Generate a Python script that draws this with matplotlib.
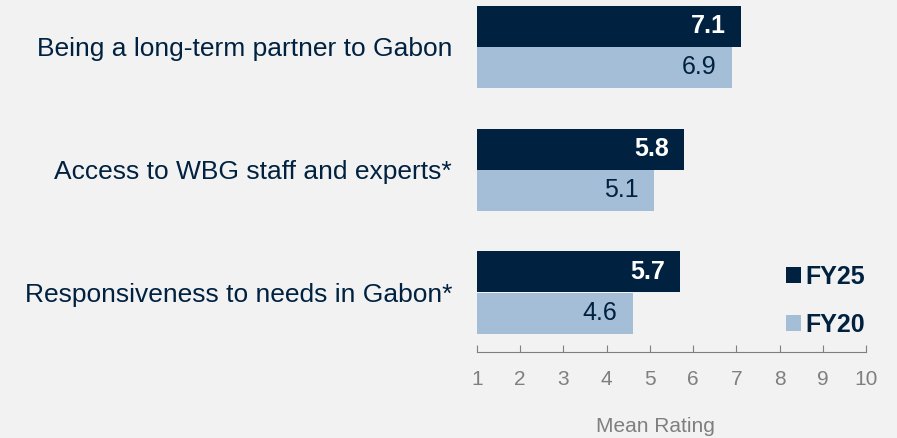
import matplotlib.pyplot as plt
import numpy as np

plt.rcParams['font.family'] = ['Liberation Sans', 'DejaVu Sans']

# data
categories = ["Being a long-term partner to Gabon",
              "Access to WBG staff and experts*",
              "Responsiveness to needs in Gabon*"]
fy25 = [7.1, 5.8, 5.7]
fy20 = [6.9, 5.1, 4.6]
series_names = ["FY25", "FY20"]
ticks = list(range(1, 11))

navy = "#00213F"
light = "#A3BED6"
bg = "#F2F2F2"
grey = "#7F7F7F"

fig = plt.figure(figsize=(8.97, 4.38), dpi=100, facecolor=bg)
W, H = 897, 438
ax = fig.add_axes([477 / W, (H - 352) / H, (866 - 477) / W, 352 / H])
ax.set_facecolor(bg)

y = np.arange(len(categories))
h = 41 / 123
b1 = ax.barh(y - h / 2, np.array(fy25) - 1, left=1, height=h, color=navy, label=series_names[0])
b2 = ax.barh(y + h / 2, np.array(fy20) - 1, left=1, height=h, color=light, label=series_names[1])

for yy, v in zip(y - h / 2, fy25):
    ax.annotate(f"{v:.1f}", (v, yy), xytext=(-11, 0), textcoords="offset points",
                ha="right", va="center", color="white", fontsize=18, fontweight="bold")
for yy, v in zip(y + h / 2, fy20):
    ax.annotate(f"{v:.1f}", (v, yy), xytext=(-11, 0), textcoords="offset points",
                ha="right", va="center", color=navy, fontsize=18)

ax.set_xlim(1, 10)
ax.set_ylim((352 - 46.5) / 123, -46.5 / 123)
ax.set_xticks(ticks)
ax.set_yticks(y)
ax.set_yticklabels(categories, fontsize=19, color=navy)
ax.tick_params(axis="y", length=0, pad=18)
ax.tick_params(axis="x", direction="in", length=5, color=grey, labelcolor=grey,
               labelsize=15, pad=13)
for s in ["top", "right", "left"]:
    ax.spines[s].set_visible(False)
ax.spines["bottom"].set_color(grey)
ax.set_xlabel("Mean Rating", fontsize=15, color=grey, va="center")
ax.xaxis.set_label_coords((655 - 477) / (866 - 477), -(426 - 352) / 352)

leg = ax.legend(handles=[b1, b2], loc="center left",
                bbox_to_anchor=(763 / W, 1 - 301 / H), bbox_transform=fig.transFigure,
                frameon=False, handlelength=0.6, handleheight=0.6, handletextpad=0.2,
                labelspacing=0.95, prop={"size": 18, "weight": "bold"})
for t in leg.get_texts():
    t.set_color(navy)

fig.savefig("out.png", dpi=100, facecolor=bg)
